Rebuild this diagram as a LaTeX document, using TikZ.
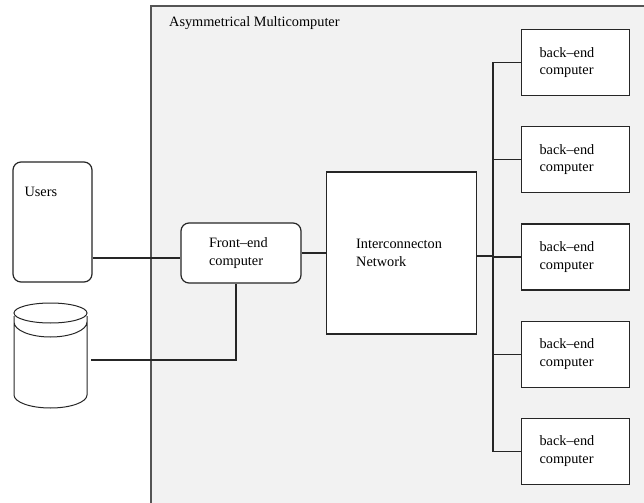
\documentclass[tikz,border=0pt]{standalone}
\usepackage{fontspec}
\setmainfont{Liberation Serif}
\usepackage{tikz}
\usetikzlibrary{positioning}
\definecolor{framegray}{RGB}{85,85,85}
\definecolor{panelgray}{RGB}{242,242,242}
\tikzset{
x=1bp, y=-1bp, % pixel like units, y grows downwards
node distance=30bp, % gap between the back-end computers
every node/.style={font=\fontsize{14.3bp}{17.5bp}\selectfont},
wire/.style={draw=black!85, line width=1.2bp}, % plain connecting lines
box/.style={wire, fill=white, inner ysep=0pt, align=left}, % white boxes with text on the left
}
\tikzset{
  backend/.style={box, minimum width=108bp, minimum height=66bp, text width=72bp, inner xsep=18bp},
  roundbox/.style={box, rounded corners=8bp}
}

\begin{document}
\begin{tikzpicture}
      \useasboundingbox (0,0) rectangle (644,503);
      % the multicomputer panel
      \fill[panelgray] (151,6) rectangle (650,510);
      \draw[framegray, line width=1.2bp] (650,6) -- (151,6) -- (151,510);
      \node[anchor=base west, inner sep=0pt] (title) at (169,27) {Asymmetrical Multicomputer};

      \node[roundbox, minimum width=79bp, minimum height=120bp] (users) at (52.5,222) {};
      \node[anchor=north west, inner sep=0pt, xshift=12bp, yshift=-26bp] (userstext) at (users.north west) {Users};
      \node[inner sep=0pt, minimum width=73bp, minimum height=108bp] (disk) at (50.5,355.5) {};
      \node[roundbox, minimum width=120bp, minimum height=60bp, text width=64bp, inner xsep=28bp] (frontend) at (241,253) {Front--end\\computer};
      \node[box, minimum width=150bp, minimum height=162bp, text width=90bp, inner xsep=30bp, right=24bp of frontend] (inter) {Interconnecton\\Network};
      \node[backend] (be1) at (575.5,62.5) {back--end\\computer};
      \node[backend, below=of be1] (be2) {back--end\\computer};
      \node[backend, below=of be2] (be3) {back--end\\computer};
      \node[backend, below=of be3] (be4) {back--end\\computer};
      \node[backend, below=of be4] (be5) {back--end\\computer};
      \coordinate (bus) at (493,258);

      % the disk drawn as a cylinder
      \draw[wire, line width=1bp] (disk.center |- 0,313) ellipse [x radius=36.5bp, y radius=10bp]
      (14,316) -- (14,395) (87,316) -- (87,395)
      (14,322) .. controls (14,330.3) and (30.34,337) .. (50.5,337) .. controls (70.66,337) and (87,330.3) .. (87,322)
      (14,395) .. controls (14,402.2) and (30.34,408) .. (50.5,408) .. controls (70.66,408) and (87,402.2) .. (87,395);

      \draw[wire] ([yshift=-36bp]users.east) -- ([yshift=-36bp]users.east -| frontend.west);
      \draw[wire] ([xshift=4bp,yshift=-4.5bp]disk.east) -| ([xshift=-5bp]frontend.south);
      \draw[wire] (frontend.east) -- (frontend.east -| inter.west);
      \draw[wire] ([yshift=-3bp]inter.east) -- ([yshift=-3bp]inter.east -| bus);
      \draw[wire] (be1.west) -- (be1.west -| bus) -- (be5.west -| bus) -- (be5.west);
      \draw[wire] (be2.west) -- (be2.west -| bus)
      (be3.west) -- (be3.west -| bus)
      (be4.west) -- (be4.west -| bus);
\end{tikzpicture}
\end{document}
